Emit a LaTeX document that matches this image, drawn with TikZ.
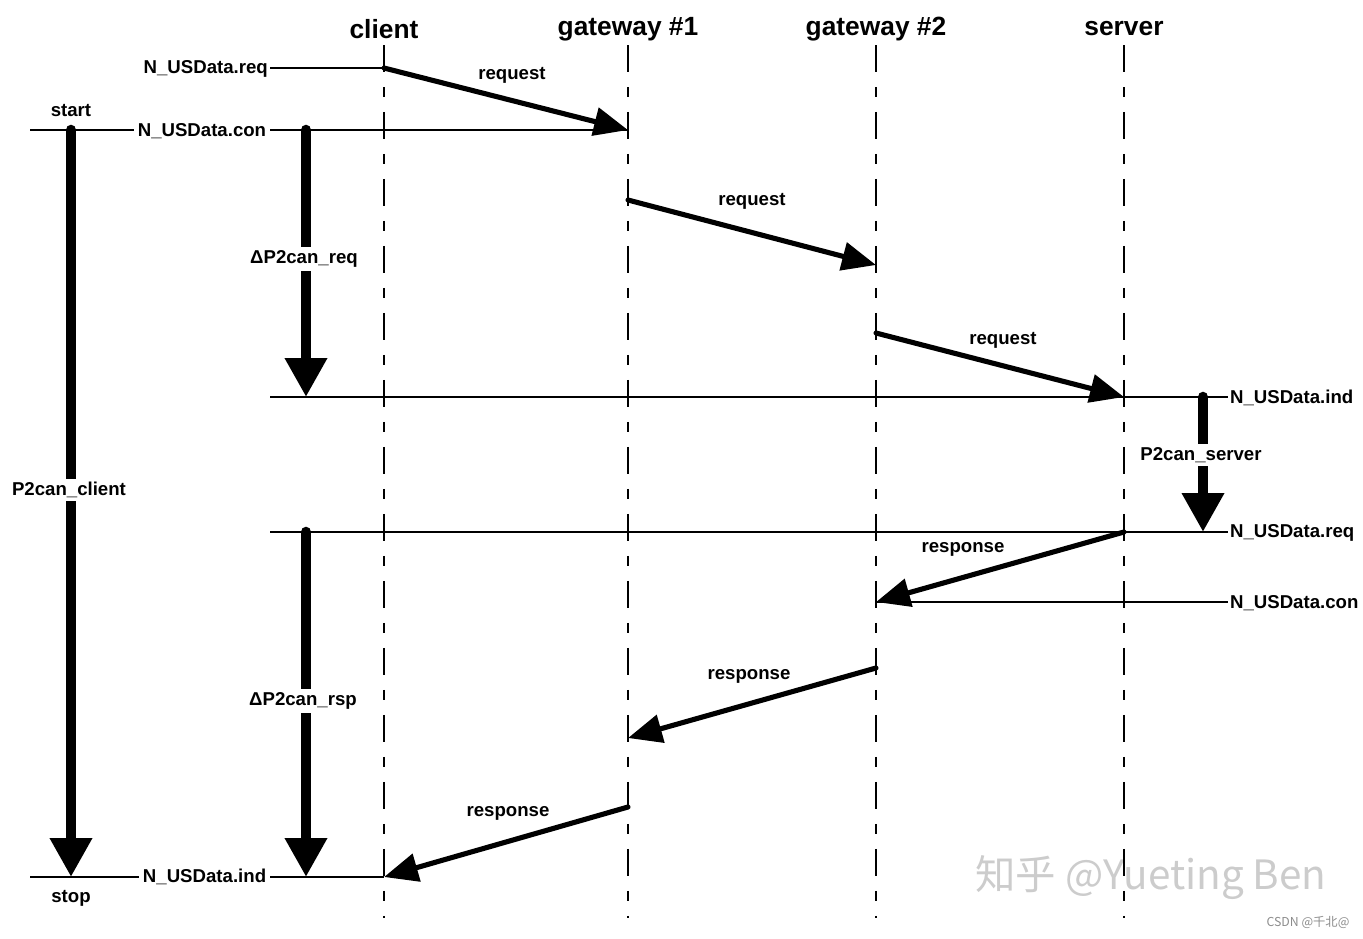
\documentclass[tikz,border=0pt]{standalone}
\usepackage{fontspec}
\setmainfont{Liberation Sans}
\newfontfamily\cjk{Noto Sans CJK SC}
\usetikzlibrary{arrows.meta}

\begin{document}
\begin{tikzpicture}[
  x=0.02cm, y=-0.02cm,
  hdr/.style={font=\fontsize{15}{18}\selectfont\bfseries},
  lbl/.style={font=\fontsize{10.6}{12}\selectfont\bfseries, inner sep=1pt},
  cut/.style={lbl, fill=white, inner sep=2pt},
  life/.style={line width=0.75pt, dash pattern=on 0.54cm off 0.3cm on 0.2cm off 0.3cm},
  sig/.style={line width=0.65pt},
  msg/.style={line width=2.9pt, line cap=round, -{Triangle[length=0.68cm, width=0.56cm]}},
  bar/.style={line width=6pt, line cap=round, -{Triangle[length=0.78cm, width=0.8cm]}},
  wmark/.style={text=black!20, font=\cjk},
]
\useasboundingbox (0,0) rectangle (1363,938);

% --- watermark ---
\node[wmark, font=\cjk\fontsize{23}{26}\selectfont] (wm) at (1151,878) {知乎 @Yueting Ben};
\node[wmark, text=black!45, font=\cjk\fontsize{7}{8}\selectfont] (wm2) at (1308,922) {CSDN @千北@};

% --- lifelines ---
\node[hdr] (client) at (384,29) {client};
\node[hdr] (gwa) at (628,29) {gateway \#1};
\node[hdr] (gwb) at (876,29) {gateway \#2};
\node[hdr] (server) at (1124,29) {server};
\foreach \n in {client,gwa,gwb,server}
  \draw[life] (\n |- 0,45) -- (\n |- 0,918);

% --- points on the lifelines ---
\coordinate (c1) at (client |- 0,68);
\coordinate (g1in) at (gwa |- 0,130);
\coordinate (g1out) at (gwa |- 0,200);
\coordinate (g2in) at (gwb |- 0,265);
\coordinate (g2out) at (gwb |- 0,333);
\coordinate (sin) at (server |- 0,397);
\coordinate (sout) at (server |- 0,532);
\coordinate (g2rin) at (gwb |- 0,602);
\coordinate (g2rout) at (gwb |- 0,668);
\coordinate (g1rin) at (gwa |- 0,738);
\coordinate (g1rout) at (gwa |- 0,807);
\coordinate (cind) at (client |- 0,877);

% --- service primitives ---
\node[lbl, anchor=east] (ureq) at (270,69) {N\_USData.req};
\draw[sig] (ureq.east |- c1) -- (c1);

\coordinate (l130) at (30,130);
\draw[sig] (l130) -- (g1in);
\node[cut, anchor=east] (ucon) at (270,131) {N\_USData.con};
\node[lbl] (start) at (71,111) {start};

\coordinate (l397) at (270,397);
\node[lbl, anchor=west] (sind) at (1228,398) {N\_USData.ind};
\draw[sig] (l397) -- (sind.west |- l397);

\coordinate (l532) at (270,532);
\node[lbl, anchor=west] (sreq) at (1228,533) {N\_USData.req};
\draw[sig] (l532) -- (sreq.west |- l532);

\node[lbl, anchor=west] (scon) at (1228,603) {N\_USData.con};
\draw[sig] (g2rin) -- (scon.west |- g2rin);

\coordinate (l877) at (30,877);
\draw[sig] (l877) -- (cind);
\node[cut, anchor=east] (uind) at (270,877) {N\_USData.ind};
\node[lbl] (stop) at (71,898) {stop};

% --- timers ---
\coordinate (tc0) at (71,130);
\coordinate (tc1) at (71,877);
\draw[bar] (tc0) -- (tc1);
\node[cut] (tclient) at (69,490) {P2can\_client};

\coordinate (tq0) at (306,130);
\coordinate (tq1) at (306,397);
\draw[bar] (tq0) -- (tq1);
\node[cut] (treq) at (304,259) {ΔP2can\_req};

\coordinate (ts0) at (1203,397);
\coordinate (ts1) at (1203,532);
\draw[bar] (ts0) -- (ts1);
\node[cut] (tserver) at (1201,455) {P2can\_server};

\coordinate (tr0) at (306,532);
\coordinate (tr1) at (306,877);
\draw[bar] (tr0) -- (tr1);
\node[cut] (trsp) at (303,701) {ΔP2can\_rsp};

% --- messages ---
\draw[msg] (c1) -- (g1in);
\node[lbl] (rq1) at (512,75) {request};
\draw[msg] (g1out) -- (g2in);
\node[lbl] (rq2) at (752,201) {request};
\draw[msg] (g2out) -- (sin);
\node[lbl] (rq3) at (1003,340) {request};

\draw[msg] (sout) -- (g2rin);
\node[lbl] (rs1) at (963,549) {response};
\draw[msg] (g2rout) -- (g1rin);
\node[lbl] (rs2) at (749,676) {response};
\draw[msg] (g1rout) -- (cind);
\node[lbl] (rs3) at (508,813) {response};

\end{tikzpicture}
\end{document}
